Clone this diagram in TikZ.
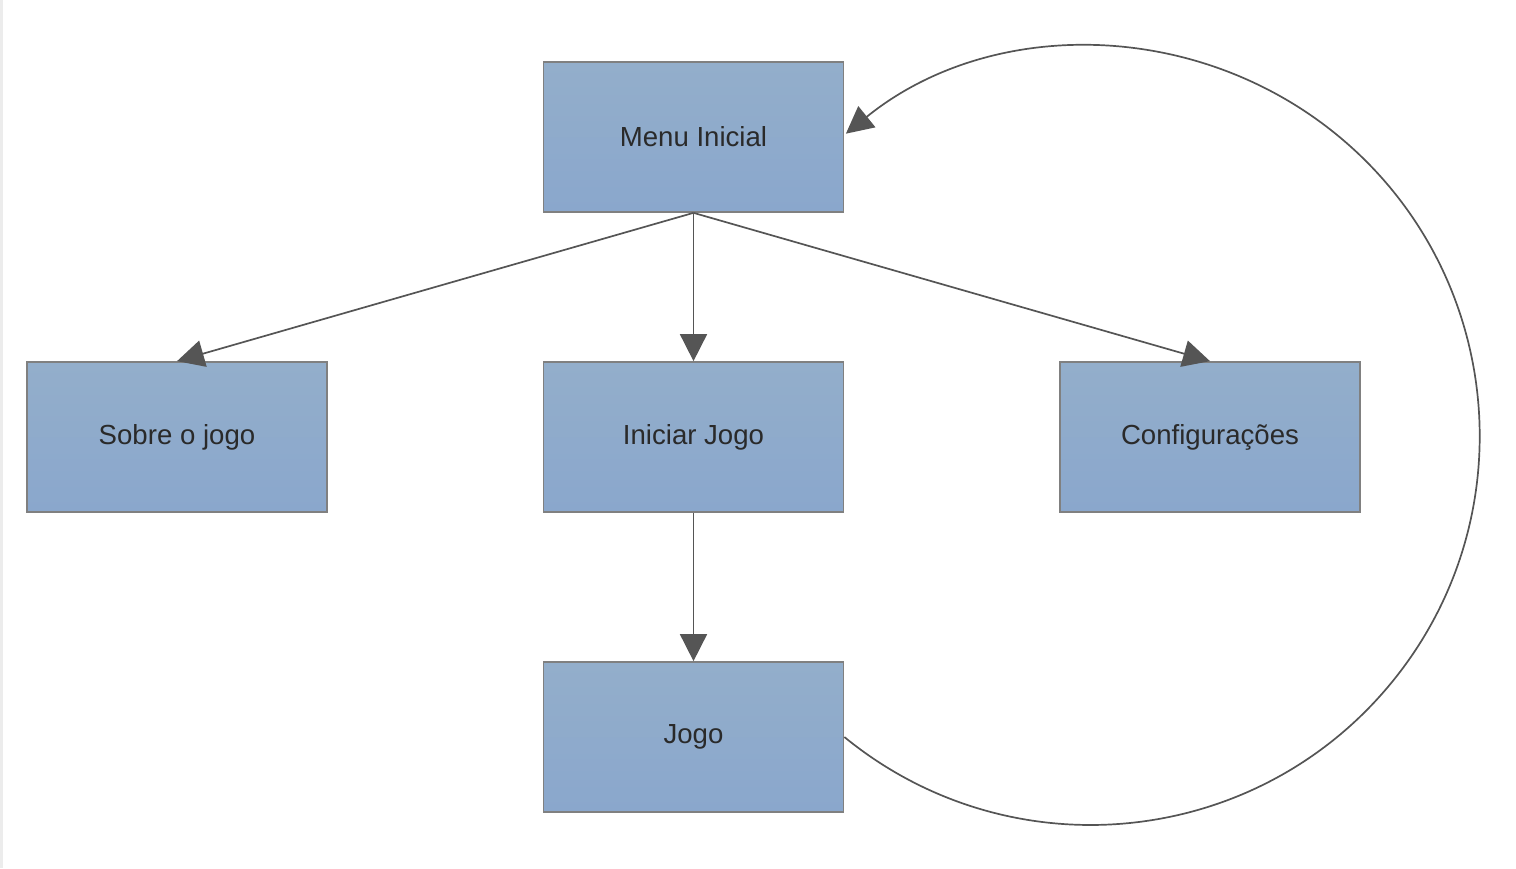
\documentclass[tikz,border=0pt]{standalone}
\usepackage{fontspec}
\setmainfont{Liberation Sans}
\usepackage{xcolor}
\usetikzlibrary{arrows.meta}
\definecolor{boxtop}{HTML}{93AECB}
\definecolor{boxbot}{HTML}{8AA7CC}
\definecolor{boxline}{HTML}{808080}
\definecolor{arrowgray}{HTML}{555555}
\definecolor{txtgray}{HTML}{2A2A2A}

\begin{document}
\begin{tikzpicture}[x=0.5pt, y=-0.5pt,
  screen/.style={rectangle, draw=boxline, line width=0.85pt, top color=boxtop, bottom color=boxbot,
    minimum width=150pt, minimum height=75pt, inner sep=0pt, text=txtgray,
    font=\fontsize{13.8}{16}\selectfont},
  link/.style={draw=arrowgray, line width=0.85pt, -{Triangle[length=13.5pt, width=13.5pt]}}]
\useasboundingbox (0,0) rectangle (1516,868);
\fill[gray!15] (0,0) rectangle (2.5,868);
\coordinate (C) at (1090,436);
\node[screen] (menu) at (693.5,137) {Menu Inicial};
\node[screen] (sobre) at (177,437) {Sobre o jogo};
\node[screen] (iniciar) at (693.5,437) {Iniciar Jogo};
\node[screen] (config) at (1210,437) {Configurações};
\node[screen] (jogo) at (693.5,737) {Jogo};
\draw[link] (menu.south) to (sobre.north);
\draw[link] (menu.south) to (iniciar.north);
\draw[link] (menu.south) to (config.north);
\draw[link] (iniciar.south) to (jogo.north);
\draw[link] (jogo.east) arc[start angle=129.3, end angle=-129, radius=389];
\end{tikzpicture}
\end{document}
